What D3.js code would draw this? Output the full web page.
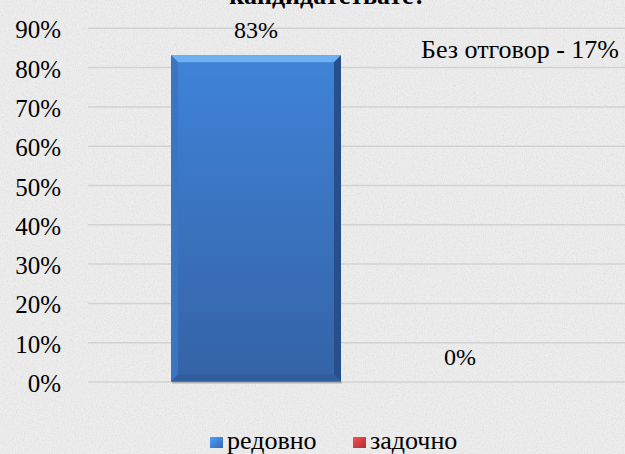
<!DOCTYPE html>
<html><head><meta charset="utf-8">
<script src="https://cdn.jsdelivr.net/npm/d3@7"></script>
<style>html,body{margin:0;padding:0;background:#e6e6e6;overflow:hidden}</style>
</head><body>
<svg id="c" width="625" height="454"></svg>
<script>
const series = ["редовно", "задочно"];
const values = [0.83, 0];
const labels = ["83%", "0%"];
const colors = ["#3b78cc", "#c0393c"];
const yTicks = [0, 0.1, 0.2, 0.3, 0.4, 0.5, 0.6, 0.7, 0.8, 0.9];
const titleText = "кандидатствате?";
const noteText = "Без отговор - 17%";

const FONT = '"Liberation Serif"';
const svg = d3.select("#c");
const W = 625, H = 454;
const defs = svg.append("defs");

// textured background
const f = defs.append("filter").attr("id","tex").attr("x",0).attr("y",0).attr("width","100%").attr("height","100%");
f.append("feTurbulence").attr("type","fractalNoise").attr("baseFrequency","0.9 0.6").attr("numOctaves",3).attr("seed",4).attr("result","n");
f.append("feColorMatrix").attr("in","n").attr("type","matrix")
  .attr("values","0 0 0 0 0.55  0 0 0 0 0.55  0 0 0 0 0.55  1.1 0 0 0 -0.45");
svg.append("rect").attr("width",W).attr("height",H).attr("fill","#ededed");
svg.append("rect").attr("width",W).attr("height",H).attr("filter","url(#tex)").attr("opacity",0.6);

const y = d3.scaleLinear().domain([0, 1]).range([381.5, -11.5]);
const x = d3.scaleBand().domain(series).range([171, 545]).paddingInner(0.1667).paddingOuter(0);

// gridlines
const gridAxis = d3.axisLeft(y).tickValues(yTicks).tickSize(-(W - 88 + 10)).tickFormat("");
const g = svg.append("g").attr("transform","translate(88,0)").call(gridAxis);
g.select(".domain").remove();
g.selectAll("line").attr("stroke","#d2d2d2").attr("stroke-width",1.5);

// y tick labels
const yl = d3.axisLeft(y).tickValues(yTicks).tickSize(0).tickPadding(0).tickFormat(d3.format(".0%"));
const ga = svg.append("g").attr("transform","translate(61,0)").call(yl);
ga.select(".domain").remove();
ga.selectAll("text").style("font-family",FONT).style("font-size","25px").attr("fill","#000")
  .attr("dy","0.4em").attr("text-anchor","end");

// bar gradient
const gr = defs.append("linearGradient").attr("id","bg").attr("x1",0).attr("y1",0).attr("x2",0).attr("y2",1);
gr.append("stop").attr("offset","0").attr("stop-color","#3f83d8");
gr.append("stop").attr("offset","1").attr("stop-color","#3463a6");

const data = series.map((s,i)=>({s, v: values[i], label: labels[i], c: colors[i]}));
const bars = svg.append("g");
data.forEach(d => {
  if (d.v <= 0) return;
  const x0 = x(d.s), x1 = x0 + x.bandwidth(), y0 = y(d.v), y1 = y(0), b = 7;
  bars.append("rect").attr("x",x0+1).attr("y",y1).attr("width",x1-x0).attr("height",2).attr("fill","#9a9a9a").attr("opacity",0.7);
  bars.append("rect").attr("x",x0).attr("y",y0).attr("width",x1-x0).attr("height",y1-y0).attr("fill","url(#bg)");
  bars.append("polygon").attr("points",[[x0,y0],[x1,y0],[x1-b,y0+b],[x0+b,y0+b]].join(" ")).attr("fill","#6fb0f3");
  bars.append("polygon").attr("points",[[x1,y0],[x1,y1],[x1-b,y1-b],[x1-b,y0+b]].join(" ")).attr("fill","#264f8c");
  bars.append("polygon").attr("points",[[x0,y0],[x0+b,y0+b],[x0+b,y1-b],[x0,y1]].join(" ")).attr("fill","#3a74c4");
  bars.append("polygon").attr("points",[[x0,y1],[x0+b,y1-b],[x1-b,y1-b],[x1,y1]].join(" ")).attr("fill","#2f5d9e");
});

// data labels
svg.append("g").selectAll("text").data(data).join("text")
  .attr("x", d => x(d.s) + x.bandwidth()/2)
  .attr("y", d => y(d.v) - 17)
  .attr("text-anchor","middle").style("font-family",FONT).style("font-size","24px").attr("fill","#000")
  .text(d => d.label);

// note
svg.append("text").attr("x",619).attr("y",58).attr("text-anchor","end")
  .style("font-family",FONT).style("font-size","26px").attr("fill","#000").text(noteText);

// title (cut off at top, as in the original)
svg.append("text").attr("x",328).attr("y",4).attr("text-anchor","middle")
  .style("font-family",FONT).style("font-size","26px").style("font-weight","bold").attr("fill","#000").text(titleText);

// legend
const lg = svg.append("g");
const lx = [210, 353];
data.forEach((d,i) => {
  const grd = defs.append("linearGradient").attr("id","lg"+i).attr("x1",0).attr("y1",0).attr("x2",1).attr("y2",1);
  grd.append("stop").attr("offset",0).attr("stop-color", d3.color(d.c).brighter(0.8));
  grd.append("stop").attr("offset",1).attr("stop-color", d3.color(d.c).darker(0.4));
  lg.append("rect").attr("x",lx[i]).attr("y",437).attr("width",13).attr("height",11).attr("fill","url(#lg"+i+")");
  lg.append("text").attr("x",lx[i]+17).attr("y",449).style("font-family",FONT).style("font-size","26px").attr("fill","#000").text(d.s);
});
</script>
</body></html>
